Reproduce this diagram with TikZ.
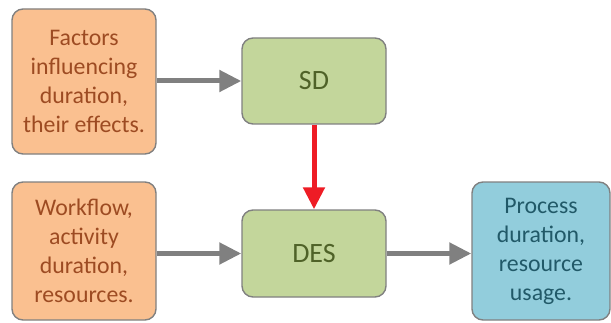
\documentclass[tikz,border=0pt]{standalone}
\usepackage{fontspec}
\setmainfont{Carlito}
\usetikzlibrary{arrows.meta}
\definecolor{orfill}{HTML}{FAC090}
\definecolor{ortext}{HTML}{9D4B22}
\definecolor{grfill}{HTML}{C3D69B}
\definecolor{grtext}{HTML}{4F6228}
\definecolor{blfill}{HTML}{92CDDC}
\definecolor{bltext}{HTML}{215968}
\definecolor{bord}{HTML}{808080}
\definecolor{redarr}{HTML}{EE1C25}
\tikzset{
  box/.style={draw=bord, line width=1.4pt, rounded corners=11pt, align=center, inner sep=0pt,
    font=\fontsize{23.8}{29}\selectfont},
  orbox/.style={box, fill=orfill, text=ortext},
  grbox/.style={box, fill=grfill, text=grtext, font=\fontsize{28}{30}\selectfont},
  blbox/.style={box, fill=blfill, text=bltext},
  grarrow/.style={draw=bord, line width=5pt, -{Triangle[length=22pt,width=21pt]}},
  redarrow/.style={draw=redarr, line width=5pt, -{Triangle[length=22pt,width=21pt]}},
}
\begin{document}
\begin{tikzpicture}[x=1pt,y=1pt]
\useasboundingbox (0,0) rectangle (611,322);
\node[orbox, minimum width=144pt, minimum height=145pt] (F) at (84,240.5) {Factors\\influencing\\duration,\\their effects.};
\node[grbox, minimum width=144pt, minimum height=86pt] (SD) at (314,241) {SD};
\node[orbox, minimum width=144pt, minimum height=138pt] (W) at (84,71) {Workflow,\\activity\\duration,\\resources.};
\node[grbox, minimum width=144pt, minimum height=87pt] (DES) at (314,68.5) {DES};
\node[blbox, minimum width=138pt, minimum height=138pt] (P) at (541,71) {Process\\duration,\\resource\\usage.};
\draw[grarrow] (F.east |- SD.west) -- (SD.west);
\draw[grarrow] (W.east |- DES.west) -- (DES.west);
\draw[grarrow] (DES.east) -- (DES.east -| P.west);
\draw[redarrow] (SD.south) -- (DES.north);
\end{tikzpicture}
\end{document}
